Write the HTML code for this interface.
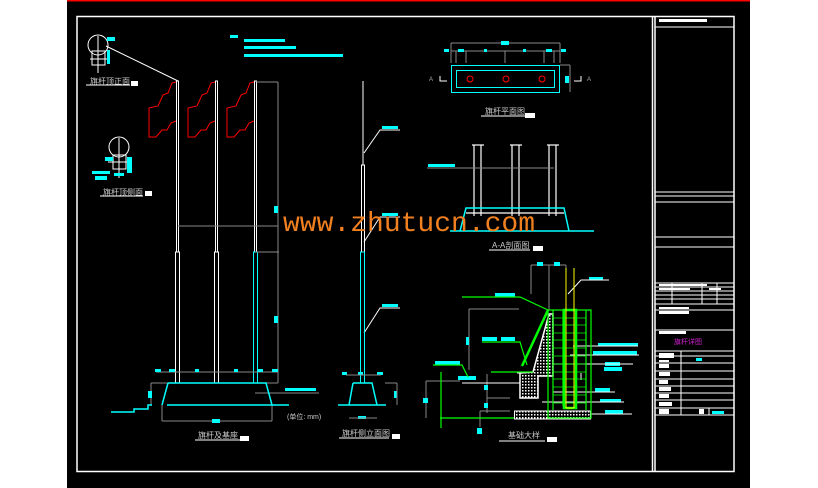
<!DOCTYPE html>
<html><head><meta charset="utf-8"><style>
html,body{margin:0;padding:0;background:#fff;width:818px;height:488px;overflow:hidden}
svg{display:block}
text{font-family:"Liberation Sans","Noto Sans CJK SC",sans-serif}
</style></head><body>
<svg width="818" height="488" viewBox="0 0 818 488" xmlns="http://www.w3.org/2000/svg">
<rect x="0" y="0" width="818" height="488" fill="#fff"/>
<rect x="67" y="0" width="683" height="488" fill="#000"/>
<rect x="67" y="0" width="683" height="1.5" fill="#f00"/>
<g fill="none" stroke="#fff" stroke-width="1.5">
<rect x="77" y="16.5" width="657" height="455"/>
<line x1="652.5" y1="16" x2="652.5" y2="472"/>
<line x1="655" y1="16" x2="655" y2="472"/>
</g>
<g stroke="#fff" stroke-width="1">
<line x1="655" y1="27" x2="734" y2="27"/>
<line x1="655" y1="192" x2="734" y2="192"/>
<line x1="655" y1="196" x2="734" y2="196"/>
<line x1="655" y1="202" x2="734" y2="202"/>
<line x1="655" y1="237" x2="734" y2="237"/>
<line x1="655" y1="247" x2="734" y2="247"/>
<line x1="655" y1="283" x2="734" y2="283"/>
<line x1="655" y1="287" x2="734" y2="287"/>
<line x1="655" y1="291" x2="734" y2="291"/>
<line x1="655" y1="295" x2="734" y2="295"/>
<line x1="655" y1="299" x2="734" y2="299"/>
<line x1="655" y1="304" x2="734" y2="304"/>
<line x1="655" y1="310" x2="734" y2="310"/>
<line x1="655" y1="330" x2="734" y2="330"/>
<line x1="655" y1="351" x2="734" y2="351"/>
<line x1="655" y1="356" x2="734" y2="356"/>
<line x1="655" y1="363" x2="734" y2="363"/>
<line x1="655" y1="371" x2="734" y2="371"/>
<line x1="655" y1="379" x2="734" y2="379"/>
<line x1="655" y1="386" x2="734" y2="386"/>
<line x1="655" y1="393" x2="734" y2="393"/>
<line x1="655" y1="400" x2="734" y2="400"/>
<line x1="655" y1="408" x2="734" y2="408"/>
<line x1="655" y1="415" x2="734" y2="415"/>
<line x1="672" y1="283" x2="672" y2="304"/>
<line x1="702" y1="283" x2="702" y2="304"/>
<line x1="717" y1="283" x2="717" y2="304"/>
<line x1="681" y1="351" x2="681" y2="415"/>
<line x1="709" y1="408" x2="709" y2="415"/>
</g>
<g fill="#fff">
<rect x="659" y="19" width="48" height="3"/>
<rect x="659" y="284" width="48" height="2"/>
<rect x="659" y="288" width="18" height="2"/>
<rect x="675" y="288" width="15" height="2"/>
<rect x="709" y="288" width="12" height="2"/>
<rect x="659" y="307" width="30" height="2"/>
<rect x="659" y="311" width="30" height="3"/>
<rect x="659" y="331" width="27" height="3"/>
<rect x="659" y="353" width="15" height="5"/>
<rect x="659" y="360" width="10" height="2"/>
<rect x="659" y="364" width="10" height="4"/>
<rect x="659" y="372" width="11" height="4"/>
<rect x="659" y="380" width="9" height="4"/>
<rect x="659" y="387" width="12" height="4"/>
<rect x="659" y="394" width="10" height="4"/>
<rect x="659" y="402" width="13" height="4"/>
<rect x="659" y="409" width="10" height="5"/>
<rect x="699" y="409" width="5" height="5"/>
</g>
<rect x="696" y="358" width="6" height="3" fill="#0ff"/>
<rect x="712" y="411" width="12" height="3" fill="#0ff"/>
<text x="674" y="344" font-size="7" fill="#d020d0">旗杆详图</text>

<g fill="none" stroke="#fff" stroke-width="1">
<circle cx="98" cy="45" r="10"/>
<rect x="92" y="51" width="13" height="14"/>
<line x1="90" y1="59" x2="108" y2="59"/>
<line x1="98" y1="36" x2="98" y2="73"/>
<line x1="106" y1="46" x2="178" y2="81"/>
<line x1="86" y1="85" x2="130" y2="85"/>
<circle cx="119" cy="147" r="10"/>
<rect x="113" y="155" width="13" height="14"/>
<line x1="108" y1="162" x2="132" y2="162"/>
<line x1="119" y1="138" x2="119" y2="178"/>
<line x1="100" y1="196" x2="143" y2="196"/>
</g>
<g fill="#0ff">
<rect x="107" y="37" width="8" height="4"/><rect x="107" y="50" width="3" height="14"/>
<rect x="105" y="157" width="8" height="4"/><rect x="92" y="171" width="18" height="3"/><rect x="95" y="176" width="12" height="4"/>
<rect x="127" y="157" width="5" height="16"/><rect x="114" y="173" width="10" height="3"/>
<rect x="230" y="35" width="8" height="3"/><rect x="244" y="39" width="41" height="3"/><rect x="244" y="46" width="52" height="3"/><rect x="244" y="54" width="99" height="3"/>
</g>
<text x="90" y="84" font-size="8" fill="#ccc">旗杆顶正面</text><rect x="131" y="81" width="7" height="5" fill="#fff"/>
<text x="103" y="195" font-size="8" fill="#ccc">旗杆顶侧面</text><rect x="145" y="191" width="7" height="5" fill="#fff"/>

<g fill="none" stroke="#f00" stroke-width="1">
<path d="M176,82 L172,83 L168,93 L163,95 L158,106 L149,108 L149,137 L156,137 L162,130 L167,130 L171,123 L176,121"/>
<path d="M215,82 L211,83 L207,93 L202,95 L197,106 L188,108 L188,137 L195,137 L201,130 L206,130 L210,123 L215,121"/>
<path d="M254,82 L250,83 L246,93 L241,95 L236,106 L227,108 L227,137 L234,137 L240,130 L245,130 L249,123 L254,121"/>
</g>
<g fill="none" stroke="#fff" stroke-width="1">
<rect x="176.5" y="81" width="2" height="171"/><rect x="175.5" y="252" width="4" height="131"/>
<rect x="215.5" y="81" width="2" height="171"/><rect x="214.5" y="252" width="4" height="131"/>
<rect x="254.5" y="81" width="2" height="171"/>
</g>
<rect x="253.5" y="252" width="4" height="131" fill="none" stroke="#0ff"/>
<g stroke="#888" stroke-width="1" fill="none">
<line x1="256" y1="82" x2="278" y2="82"/><line x1="278" y1="82" x2="278" y2="383"/>
<line x1="178" y1="226" x2="278" y2="226"/><line x1="256" y1="252" x2="279" y2="252"/>
<line x1="156" y1="372" x2="278" y2="372"/>
<line x1="151" y1="383" x2="278" y2="383"/><line x1="151" y1="383" x2="151" y2="405"/>
<line x1="162" y1="405" x2="162" y2="421"/><line x1="272" y1="405" x2="272" y2="421"/><line x1="162" y1="421" x2="272" y2="421"/>
<line x1="255" y1="393" x2="319" y2="393"/>
</g>
<g fill="#0ff">
<rect x="274" y="206" width="4" height="7"/><rect x="274" y="316" width="4" height="7"/>
<rect x="155" y="369" width="6" height="3"/><rect x="169" y="369" width="6" height="3"/><rect x="195" y="369" width="4" height="3"/><rect x="234" y="369" width="4" height="3"/><rect x="257" y="369" width="6" height="3"/><rect x="272" y="369" width="6" height="3"/>
<rect x="148" y="391" width="4" height="7"/><rect x="212" y="419" width="8" height="4"/>
<rect x="285" y="388" width="31" height="3"/>
</g>
<g fill="none" stroke="#0ff" stroke-width="1.5">
<path d="M168,383 L266,383 L272,405 M168,383 L162,405"/>
<line x1="167" y1="405" x2="289" y2="405"/>
<path d="M111,412 L134,412 L134,409 L148,409 L148,405 L152,405"/>
</g>
<text x="287" y="419" font-size="7" fill="#ccc">(单位: mm)</text>
<text x="198" y="438" font-size="8" fill="#ccc">旗杆及基座</text><line x1="195" y1="440" x2="240" y2="440" stroke="#fff"/><rect x="240" y="436" width="9" height="5" fill="#fff"/>

<g fill="none" stroke="#fff" stroke-width="1">
<line x1="363" y1="81" x2="363" y2="165"/><rect x="361.5" y="165" width="3" height="87"/>
<path d="M364,153 L380,130 L400,130"/><path d="M364,242 L380,217 L400,217"/><path d="M364,333 L380,308 L400,308"/>
</g>
<rect x="360.5" y="252" width="4" height="131" fill="none" stroke="#0ff"/>
<g fill="#0ff"><rect x="382" y="126" width="16" height="3"/><rect x="382" y="213" width="16" height="3"/><rect x="382" y="304" width="16" height="3"/>
<rect x="342" y="372" width="5" height="3"/><rect x="358" y="372" width="5" height="3"/><rect x="377" y="372" width="6" height="3"/><rect x="394" y="391" width="3" height="7"/><rect x="358" y="416" width="8" height="3"/></g>
<g fill="none" stroke="#0ff" stroke-width="1.5"><path d="M353,383 L372,383 L377,405 M353,383 L349,405"/><line x1="338" y1="405" x2="386" y2="405"/></g>
<g stroke="#888" fill="none"><line x1="346" y1="375" x2="381" y2="375"/><line x1="385" y1="383" x2="397" y2="383"/><line x1="397" y1="383" x2="397" y2="405"/><line x1="349" y1="418" x2="377" y2="418"/></g>
<text x="342" y="436" font-size="8" fill="#ccc">旗杆侧立面图</text><line x1="339" y1="438" x2="389" y2="438" stroke="#fff"/><rect x="392" y="434" width="8" height="5" fill="#fff"/>

<g stroke="#888" fill="none"><line x1="451" y1="43" x2="560" y2="43"/><line x1="451" y1="51" x2="560" y2="51"/><line x1="451" y1="43" x2="451" y2="63"/><line x1="560" y1="43" x2="560" y2="63"/><line x1="456" y1="51" x2="456" y2="63"/><line x1="466" y1="51" x2="466" y2="63"/><line x1="505" y1="51" x2="505" y2="63"/><line x1="544" y1="51" x2="544" y2="63"/><line x1="554" y1="51" x2="554" y2="63"/><line x1="560" y1="65" x2="570" y2="65"/><line x1="570" y1="65" x2="570" y2="92"/></g>
<g fill="#0ff"><rect x="501" y="41" width="8" height="4"/><rect x="444" y="49" width="5" height="3"/><rect x="458" y="49" width="6" height="3"/><rect x="484" y="49" width="3" height="3"/><rect x="523" y="49" width="3" height="3"/><rect x="546" y="49" width="6" height="3"/><rect x="561" y="49" width="5" height="3"/><rect x="565" y="76" width="4" height="7"/></g>
<rect x="451.5" y="65.5" width="108" height="27" fill="none" stroke="#0ff"/><rect x="456.5" y="70.5" width="98" height="17" fill="none" stroke="#0ff"/>
<g fill="none" stroke="#f00"><circle cx="470" cy="79" r="3"/><circle cx="506" cy="79" r="3"/><circle cx="542" cy="79" r="3"/></g>
<g stroke="#fff" fill="none"><path d="M440,76 L440,81 L447,81"/><path d="M581,76 L581,81 L574,81"/></g>
<text x="429" y="81" font-size="6" fill="#aaa">A</text><text x="587" y="81" font-size="6" fill="#aaa">A</text>
<text x="485" y="114" font-size="8" fill="#ccc">旗杆平面图</text><line x1="481" y1="116" x2="525" y2="116" stroke="#fff"/><rect x="525" y="113" width="10" height="5" fill="#fff"/>

<g stroke="#fff" fill="none" stroke-width="1.2"><line x1="472" y1="145" x2="484" y2="145"/><line x1="474" y1="145" x2="474" y2="216"/><line x1="481" y1="145" x2="481" y2="216"/><line x1="510" y1="145" x2="522" y2="145"/><line x1="512" y1="145" x2="512" y2="216"/><line x1="519" y1="145" x2="519" y2="216"/><line x1="547" y1="145" x2="559" y2="145"/><line x1="549" y1="145" x2="549" y2="216"/><line x1="556" y1="145" x2="556" y2="216"/><line x1="466" y1="213" x2="564" y2="213"/></g>
<line x1="427" y1="168" x2="554" y2="168" stroke="#888"/><rect x="428" y="164" width="27" height="3" fill="#0ff"/>
<g fill="none" stroke="#0ff" stroke-width="1.5"><path d="M460,231 L466,208 L564,208 L569,231"/><line x1="450" y1="231" x2="594" y2="231"/></g>
<text x="492" y="248" font-size="8" fill="#ccc">A-A剖面图</text><line x1="489" y1="250" x2="530" y2="250" stroke="#fff"/><rect x="533" y="246" width="10" height="5" fill="#fff"/>

<g stroke="#888" fill="none"><line x1="531" y1="265" x2="566" y2="265"/><line x1="531" y1="265" x2="531" y2="294"/><line x1="549" y1="265" x2="549" y2="310"/><line x1="566" y1="265" x2="566" y2="295"/><line x1="469" y1="309" x2="519" y2="309"/><line x1="469" y1="309" x2="469" y2="370"/><line x1="426" y1="381" x2="426" y2="418"/><line x1="426" y1="381" x2="460" y2="381"/><line x1="487" y1="374" x2="487" y2="413"/><line x1="487" y1="398" x2="510" y2="398"/><line x1="480" y1="411" x2="510" y2="411"/><line x1="480" y1="411" x2="480" y2="427"/></g>
<g fill="#0ff"><rect x="537" y="262" width="6" height="4"/><rect x="554" y="262" width="6" height="4"/><rect x="495" y="293" width="20" height="4"/><rect x="466" y="337" width="3" height="8"/><rect x="482" y="337" width="15" height="4"/><rect x="501" y="337" width="14" height="4"/><rect x="435" y="361" width="25" height="4"/><rect x="458" y="376" width="18" height="4"/><rect x="423" y="398" width="5" height="5"/><rect x="484" y="385" width="4" height="5"/><rect x="484" y="403" width="4" height="5"/><rect x="477" y="428" width="5" height="6"/><rect x="589" y="277" width="14" height="3"/><rect x="598" y="343" width="40" height="3"/><rect x="593" y="351" width="44" height="4"/><rect x="605" y="362" width="15" height="4"/><rect x="604" y="367" width="18" height="4"/><rect x="595" y="388" width="15" height="4"/><rect x="600" y="399" width="21" height="3"/><rect x="605" y="410" width="18" height="4"/></g>
<g stroke="#fff" fill="none"><path d="M568,294 L581,280 L609,280"/><line x1="573" y1="346" x2="638" y2="346"/><line x1="570" y1="355" x2="639" y2="355"/><line x1="544" y1="364" x2="633" y2="364"/><line x1="581" y1="373" x2="581" y2="380"/><line x1="553" y1="392" x2="615" y2="392"/><line x1="542" y1="402" x2="624" y2="402"/><line x1="591" y1="414" x2="632" y2="414"/><line x1="517" y1="373" x2="540" y2="373"/><line x1="462" y1="383" x2="520" y2="383"/></g>
<defs><pattern id="h" width="3" height="3" patternUnits="userSpaceOnUse"><rect width="3" height="3" fill="#000"/><rect width="1.5" height="1.5" fill="#fff"/></pattern></defs>
<path d="M533,372 L549,314 L553,314 L553,376 L538,376 L538,398 L520,398 L520,373 Z" fill="url(#h)" stroke="#fff" stroke-width="1.5"/>
<rect x="514.5" y="411" width="76" height="8" fill="url(#h)" stroke="#fff"/>
<g stroke="#0f0" fill="none" stroke-width="1.2"><rect x="548" y="310" width="43" height="108"/><line x1="553" y1="310" x2="553" y2="410"/><line x1="563" y1="310" x2="563" y2="406"/><line x1="586" y1="310" x2="586" y2="410"/><path d="M462,297 L520,297 L548,310"/><path d="M482,342 L520,342 L527,365"/><path d="M433,365 L462,365 L468,377"/><path d="M522,366 L548,310" stroke-width="2.5"/><line x1="440" y1="418" x2="514" y2="418"/><line x1="441" y1="372" x2="441" y2="428"/><path d="M491,372 L533,372"/></g>
<g stroke="#0f0" stroke-width="0.8"><line x1="553" y1="318" x2="586" y2="318"/><line x1="553" y1="325" x2="586" y2="325"/><line x1="553" y1="333" x2="586" y2="333"/><line x1="553" y1="340" x2="586" y2="340"/><line x1="553" y1="348" x2="586" y2="348"/><line x1="553" y1="356" x2="586" y2="356"/><line x1="553" y1="364" x2="586" y2="364"/><line x1="553" y1="372" x2="586" y2="372"/><line x1="553" y1="379" x2="586" y2="379"/><line x1="553" y1="387" x2="586" y2="387"/><line x1="553" y1="395" x2="586" y2="395"/><line x1="553" y1="403" x2="586" y2="403"/></g>
<rect x="564" y="310" width="12" height="98" fill="none" stroke="#0f0" stroke-width="2.5"/>
<g stroke="#ff0" fill="none" stroke-width="1"><line x1="566" y1="268" x2="566" y2="408"/><line x1="574" y1="268" x2="574" y2="408"/><line x1="566" y1="408" x2="574" y2="408"/></g>
<text x="508" y="438" font-size="8" fill="#ccc">基础大样</text><line x1="499" y1="441" x2="545" y2="441" stroke="#fff"/><rect x="547" y="437" width="10" height="5" fill="#fff"/>

<text x="283" y="231" style="font-family:'Liberation Mono',monospace;font-size:28px" fill="#f08020">www.zhutucn.com</text>
</svg>
</body></html>
